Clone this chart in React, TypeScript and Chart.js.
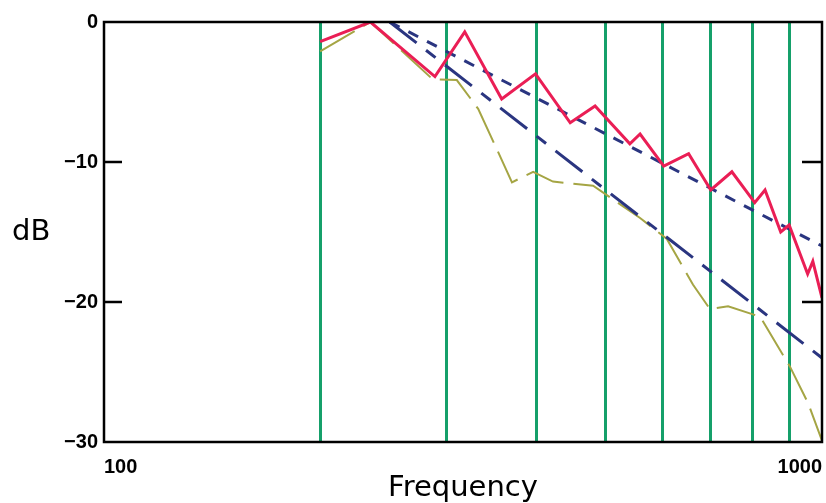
import React, { useEffect, useRef } from "react";
import { Chart, registerables } from "chart.js";

Chart.register(...registerables);

// ---- data ----
const xTickValues = [100, 200, 300, 400, 500, 600, 700, 800, 900, 1000];
const markerFreqs = [200, 300, 400, 500, 600, 700, 800, 900];
const edgeLabels = [100, 1000];
const innerTickDb = [-10, -20];

const redFreq = [200, 235, 289, 318, 358, 399, 446, 483, 540, 558, 602, 652, 700, 749, 806, 833, 876, 900, 955, 971, 1000];
const redDb = [-1.4, 0, -3.9, -0.7, -5.5, -3.7, -7.2, -6.0, -8.7, -8.0, -10.3, -9.4, -12.0, -10.7, -12.9, -12.0, -15.0, -14.5, -18.0, -17.1, -19.7];

const blueUpperFreq = [250, 1000];
const blueUpperDb = [0, -16];

const blueLowerFreq = [250, 1000];
const blueLowerDb = [0, -24];

const oliveFreq = [200, 235, 287, 310, 332, 354, 370, 396, 422, 480, 558, 608, 661, 698, 740, 820, 902, 956, 1000];
const oliveDb = [-2.1, 0, -4.1, -4.15, -6.2, -9.3, -11.45, -10.7, -11.4, -11.7, -14.0, -15.5, -18.75, -20.5, -20.3, -21.05, -24.6, -27.2, -29.9];

const yLabel = "dB";
const xLabel = "Frequency";

const toPts = (fs: number[], ds: number[]) => fs.map((f, i) => ({ x: f, y: ds[i] }));

const framePlugin = {
  id: "frame",
  afterDatasetsDraw(chart: any) {
    const { ctx, chartArea, scales } = chart;
    const { left, top, right, bottom } = chartArea;
    ctx.save();
    ctx.strokeStyle = "#000";
    ctx.lineWidth = 2.5;
    ctx.strokeRect(left, top, right - left, bottom - top);
    ctx.beginPath();
    for (const v of innerTickDb) {
      const py = scales.y.getPixelForValue(v);
      ctx.moveTo(left, py);
      ctx.lineTo(left + 18, py);
      ctx.moveTo(right - 20, py);
      ctx.lineTo(right, py);
    }
    ctx.stroke();
    ctx.fillStyle = "#000";
    ctx.font = '29px "DejaVu Sans"';
    ctx.textAlign = "left";
    ctx.textBaseline = "alphabetic";
    ctx.fillText(yLabel, 12, 240);
    ctx.restore();
  },
};

export default function App() {
  const ref = useRef<HTMLCanvasElement | null>(null);

  useEffect(() => {
    if (!ref.current) return;
    const chart = new Chart(ref.current, {
      type: "line",
      data: {
        datasets: [
          {
            label: "red",
            data: toPts(redFreq, redDb),
            borderColor: "#ea1e55",
            borderWidth: 3,
            pointRadius: 0,
            tension: 0,
          },
          {
            label: "blue upper",
            data: toPts(blueUpperFreq, blueUpperDb),
            borderColor: "#2a3580",
            borderWidth: 3,
            borderDash: [11, 10],
            pointRadius: 0,
          },
          {
            label: "blue lower",
            data: toPts(blueLowerFreq, blueLowerDb),
            borderColor: "#2a3580",
            borderWidth: 3,
            borderDash: [34, 12, 12, 12],
            pointRadius: 0,
          },
          {
            label: "olive",
            data: toPts(oliveFreq, oliveDb),
            borderColor: "#a5a544",
            borderWidth: 2,
            borderDash: [40, 10],
            pointRadius: 0,
            tension: 0,
          },
        ],
      },
      options: {
        animation: false,
        responsive: true,
        maintainAspectRatio: false,
        layout: { padding: { top: 22, right: 4, left: 0, bottom: 0 } },
        plugins: { legend: { display: false }, tooltip: { enabled: false } },
        scales: {
          x: {
            type: "logarithmic",
            min: 100,
            max: 1000,
            afterBuildTicks: (scale: any) => {
              scale.ticks = xTickValues.map((v) => ({ value: v }));
            },
            afterFit: (scale: any) => {
              scale.height = 61;
            },
            ticks: {
              autoSkip: false,
              maxRotation: 0,
              minRotation: 0,
              align: "inner",
              padding: 0,
              color: "#000",
              font: { family: '"Liberation Sans", Arial, sans-serif', size: 20, weight: "bold", lineHeight: 2.5 },
              callback: (v: any) => (edgeLabels.includes(Number(v)) ? String(v) : ""),
            },
            grid: {
              drawTicks: false,
              lineWidth: 3,
              color: (c: any) => (c.tick && markerFreqs.includes(c.tick.value) ? "#15a06a" : "rgba(0,0,0,0)"),
            },
            border: { display: false },
            title: {
              display: true,
              text: xLabel,
              color: "#000",
              padding: 0,
              font: { family: '"DejaVu Sans", sans-serif', size: 29, lineHeight: 1 },
            },
          },
          y: {
            min: -30,
            max: 0,
            afterFit: (scale: any) => {
              scale.width = 104;
            },
            ticks: {
              stepSize: 10,
              padding: 6,
              color: "#000",
              font: { family: '"Liberation Sans", Arial, sans-serif', size: 20, weight: "bold" },
              callback: (v: any) => (Number(v) === 0 ? "0" : "\u2212" + Math.abs(Number(v))),
            },
            grid: { display: false, drawTicks: false },
            border: { display: false },
          },
        },
      },
      plugins: [framePlugin],
    });
    return () => chart.destroy();
  }, []);

  return (
    <div style={{ position: "fixed", left: 0, top: 0, width: 826, height: 503, background: "#fff" }}>
      <canvas ref={ref} />
    </div>
  );
}
